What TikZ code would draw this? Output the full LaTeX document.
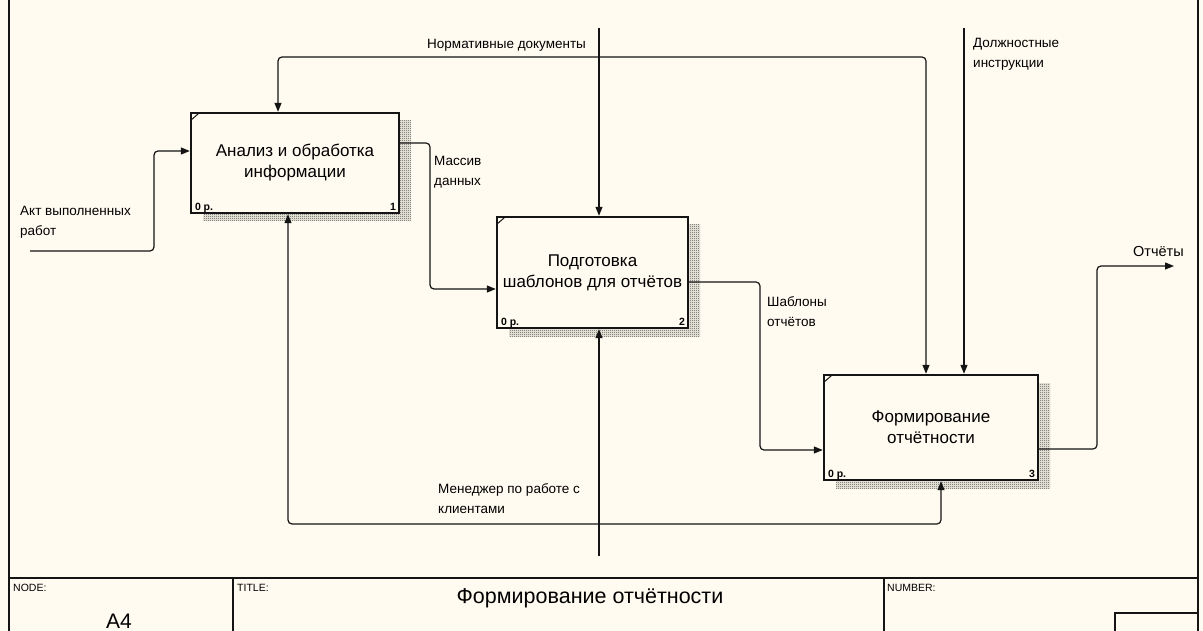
\documentclass[tikz,border=0pt]{standalone}
\usepackage{fontspec}
\setmainfont{Liberation Sans}
\usetikzlibrary{arrows.meta,patterns.meta,shadows,calc}

\definecolor{paper}{RGB}{255,251,240}
\definecolor{ink}{RGB}{20,20,20}

% fine checkerboard used for the box shadows
\tikzdeclarepattern{
  name=dither, type=uncolored,
  bounding box={(0pt,0pt) and (2pt,2pt)},
  tile size={(2pt,2pt)},
  code={\fill (0pt,0pt) rectangle (1pt,1pt); \fill (1pt,1pt) rectangle (2pt,2pt);}
}

\tikzset{
  actbox/.style={draw=ink, line width=2.4pt, fill=paper, inner sep=0pt,
    align=center, font=\fontsize{17}{21}\selectfont,
    drop shadow={shadow xshift=12pt, shadow yshift=-8pt, fill=none,
      pattern=dither, pattern color=black!95, opacity=1}},
  flow/.style={draw=ink, line width=1.2pt, rounded corners=4pt},
  arr/.style={flow, -{Triangle[length=9pt,width=7pt]}},
  lbl/.style={inner sep=0pt, anchor=north west, align=left,
    font=\fontsize{13.5}{20}\selectfont},
  tag/.style={inner sep=0pt, font=\bfseries\fontsize{10.5}{11}\selectfont},
  tiny/.style={inner sep=0pt, anchor=north west, font=\fontsize{10.5}{11}\selectfont},
  frame/.style={draw=ink, line width=1.3pt},
}

\begin{document}
\begin{tikzpicture}[x=1pt,y=-1pt]
\useasboundingbox (0,0) rectangle (1203,631);
\fill[paper] (0,0) rectangle (1203,631);

% outer frame and title block
\draw[frame] (9,0) -- (9,631);
\draw[frame] (1198,0) -- (1198,631);
\draw[frame, line width=2pt] (9,578) -- (1198,578);
\draw[frame] (233,578) -- (233,631);
\draw[frame] (884,578) -- (884,631);
\draw[frame] (1115,631) -- (1115,613) -- (1198,613);

\node[tiny] (tnode) at (13,584) {NODE:};
\node[tiny] (ttitle) at (237,584) {TITLE:};
\node[tiny] (tnum) at (887,584) {NUMBER:};
\node[inner sep=0pt, anchor=base, font=\fontsize{21.5}{24}\selectfont] (tname) at (590,603) {Формирование отчётности};
\node[inner sep=0pt, anchor=base, font=\fontsize{21}{22}\selectfont] (tA) at (119,628) {A4};

% activity boxes
\node[actbox, minimum width=208pt, minimum height=100pt] (b1) at (295,163)
  {Анализ и обработка\\информации};
\node[actbox, minimum width=191pt, minimum height=111pt] (b2) at (592.5,272.5)
  {Подготовка\\шаблонов для отчётов};
\node[actbox, minimum width=214pt, minimum height=105pt] (b3) at (931,427.5)
  {Формирование\\отчётности};

\foreach \b/\n in {b1/1,b2/2,b3/3}{
  \draw[ink, line width=1pt] ([xshift=1.5pt,yshift=-8pt]\b.north west) -- ([xshift=9pt,yshift=-1.5pt]\b.north west);
  \node[tag, anchor=base west] (\b-cost) at ([xshift=5pt,yshift=4pt]\b.south west) {0 р.};
  \node[tag, anchor=base east] (\b-num) at ([xshift=-4pt,yshift=4pt]\b.south east) {\n};
}

% input
\coordinate (inA) at (30,251);
\draw[arr] (inA) -- (154,251) -- (154,151) -- ([yshift=12pt]b1.west);
\node[lbl] (lin) at (20,206) {Акт выполненных\\работ};

% outputs between activities
\draw[arr] ([yshift=20pt]b1.east) -- (430,143) -- (430,289) -- ([yshift=-16.5pt]b2.west);
\node[lbl] (lmas) at (434,156) {Массив\\данных};
\draw[arr] ([yshift=-9.5pt]b2.east) -- (760,282) -- (760,450) -- ([yshift=-22.5pt]b3.west);
\node[lbl] (lshab) at (767,296) {Шаблоны\\отчётов};

% final output
\coordinate (outR) at (1174,266);
\draw[arr] ([yshift=-21.5pt]b3.east) -- (1097,449) -- (1097,266) -- (outR);
\node[inner sep=0pt, anchor=west, font=\fontsize{14.5}{16}\selectfont] (lout) at (1133,252) {Отчёты};

% controls
\coordinate (ctop) at (599,28);
\coordinate (cbr) at (599,57);
\draw[arr] (ctop) -- ([xshift=6.5pt]b2.north);
\draw[arr] (cbr) -- (278,57) -- ([xshift=-17pt]b1.north);
\draw[arr] (cbr) -- (926,57) -- ([xshift=-5pt]b3.north);
\node[lbl, anchor=west] (lnorm) at (427,45) {Нормативные документы};

\coordinate (c2top) at (964,28);
\draw[arr] (c2top) -- ([xshift=33pt]b3.north);
\node[lbl] (ldol) at (973,38) {Должностные\\инструкции};

% mechanism
\coordinate (mbot) at (599,556);
\coordinate (mbr) at (599,524);
\draw[arr] (mbot) -- ([xshift=6.5pt]b2.south);
\draw[arr] (mbr) -- (288,524) -- ([xshift=-7pt]b1.south);
\draw[arr] (mbr) -- (941,524) -- ([xshift=10pt]b3.south);
\node[lbl] (lmen) at (438,483) {Менеджер по работе с\\клиентами};
\end{tikzpicture}
\end{document}
